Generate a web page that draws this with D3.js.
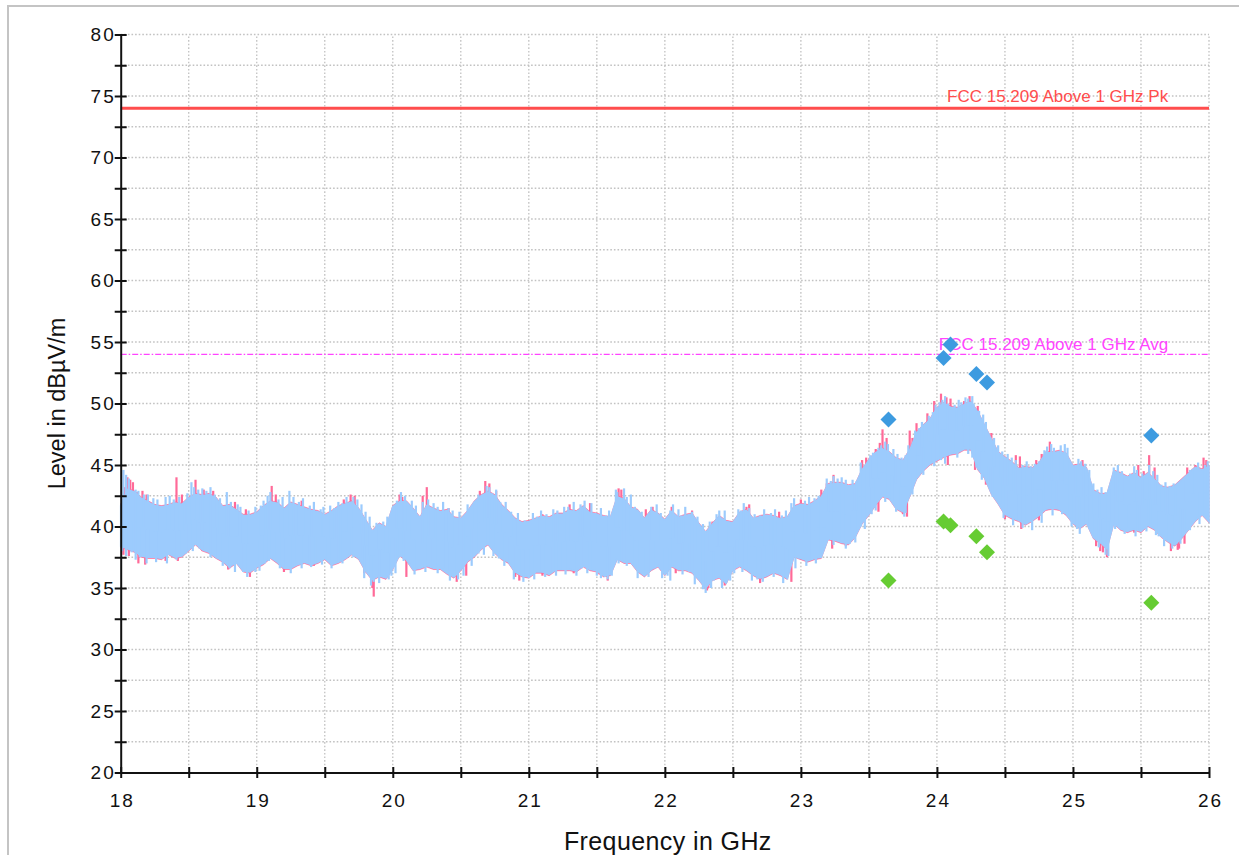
<!DOCTYPE html>
<html>
<head>
<meta charset="utf-8">
<script src="https://cdn.jsdelivr.net/npm/d3@7"></script>
<style>
  body { margin: 0; background: #fff; }
  svg { display: block; font-family: "Liberation Sans", Arial, sans-serif; }
</style>
</head>
<body>
<svg id="chart" width="1239" height="855"></svg>
<script>
// Sweep 18–26 GHz, core band of each trace sampled every 50 MHz (dBµV/m)
const sweepStart = 18;
const sweepStep = 0.05;

// Average-detector trace (light blue): upper and lower edge of the dense band
const blueHi = [
  41.7, 43.0, 42.8, 42.3, 42.0, 41.7, 41.6, 41.7, 41.9, 41.8,
  42.3, 42.6, 42.5, 42.6, 42.3, 41.6, 41.7, 41.3, 40.9, 40.9,
  41.1, 41.6, 42.0, 41.9, 41.4, 41.9, 41.7, 41.5, 41.3, 41.2,
  40.9, 41.2, 41.6, 41.8, 42.0, 41.4, 40.5, 39.6, 40.2, 39.9,
  41.6, 42.0, 42.0, 41.4, 40.7, 41.7, 41.4, 41.2, 41.3, 40.7,
  40.6, 41.2, 42.0, 42.5, 42.8, 42.5, 41.7, 41.2, 40.6, 40.3,
  40.4, 40.6, 40.8, 40.7, 41.0, 41.0, 41.3, 41.2, 41.6, 41.1,
  41.0, 40.8, 40.7, 42.4, 42.2, 41.5, 41.3, 40.6, 41.3, 41.0,
  40.5, 41.2, 40.7, 40.9, 41.0, 40.2, 39.5, 40.2, 40.8, 40.4,
  40.3, 41.1, 41.3, 40.6, 40.8, 40.9, 40.8, 40.6, 40.7, 41.6,
  41.8, 41.7, 42.0, 42.4, 43.4, 43.5, 43.5, 43.3, 43.4, 44.6,
  45.4, 46.0, 46.3, 46.0, 45.5, 45.3, 46.2, 47.6, 48.2, 48.7,
  49.6, 50.0, 49.7, 49.6, 49.9, 50.1, 49.3, 48.2, 47.1, 46.0,
  45.6, 45.2, 44.7, 44.8, 44.7, 45.1, 46.0, 46.0, 46.1, 45.9,
  44.9, 45.0, 44.7, 42.9, 42.6, 42.6, 44.5, 44.3, 44.0, 44.3,
  43.9, 44.3, 43.8, 43.2, 43.1, 43.3, 43.8, 44.3, 44.8, 44.6,
  44.9
];
const blueLo = [
  38.4, 38.2, 38.0, 37.6, 37.5, 37.5, 37.4, 37.8, 37.5, 37.6,
  38.1, 38.6, 38.1, 37.9, 37.5, 37.2, 36.7, 37.1, 36.4, 36.3,
  36.7, 37.0, 37.5, 37.1, 36.6, 36.6, 36.9, 37.1, 36.9, 37.1,
  37.4, 36.9, 37.1, 37.4, 37.8, 37.4, 36.4, 35.7, 36.0, 35.8,
  36.6, 37.7, 37.3, 36.5, 36.6, 36.8, 36.6, 36.6, 36.2, 35.9,
  36.5, 37.2, 37.6, 38.2, 38.6, 37.9, 37.4, 37.1, 36.3, 36.0,
  35.9, 36.3, 36.3, 36.1, 36.5, 36.5, 36.5, 36.4, 36.8, 36.5,
  36.4, 36.0, 36.1, 37.4, 37.1, 37.1, 36.4, 36.0, 36.5, 36.8,
  36.1, 36.8, 36.5, 36.5, 36.3, 35.7, 35.0, 35.7, 35.9, 35.4,
  36.5, 36.8, 36.5, 36.1, 35.8, 36.0, 36.3, 36.1, 35.8, 37.6,
  37.4, 37.2, 37.4, 37.5, 39.0, 38.9, 38.7, 38.6, 39.2, 40.3,
  41.0, 41.8, 42.5, 42.3, 41.5, 41.2, 42.5, 43.9, 44.6, 45.1,
  45.4, 45.7, 45.9, 46.0, 46.3, 46.3, 44.7, 44.0, 42.7, 41.9,
  41.0, 40.7, 40.5, 40.2, 40.5, 40.9, 41.4, 41.5, 41.4, 41.0,
  40.3, 39.9, 40.3, 39.1, 38.7, 38.2, 40.3, 39.8, 39.6, 39.8,
  39.6, 40.1, 39.8, 39.2, 38.8, 38.5, 39.1, 39.8, 40.5, 41.0,
  40.4
];
// Isolated excursions of the average trace beyond its band [GHz, dBµV/m]
const blueSpikes = [
  [18.02, 44.6], [18.06, 43.9], [18.11, 43.0], [18.17, 42.6], [18.24, 42.3], [18.33, 42.4], [18.39, 42.2],
  [18.47, 42.0], [18.52, 43.6], [18.57, 43.0], [18.63, 42.9], [18.69, 42.6], [18.78, 42.8], [18.86, 41.8],
  [18.94, 41.3], [19.03, 41.7], [19.08, 42.5], [19.16, 42.2], [19.24, 42.9], [19.31, 42.0], [19.39, 41.7],
  [19.47, 41.4], [19.57, 41.5], [19.63, 41.9], [19.71, 42.4], [19.77, 41.8], [19.83, 40.8], [19.93, 40.4],
  [20.03, 42.1], [20.09, 42.5], [20.17, 41.7], [20.26, 42.2], [20.33, 41.6], [20.41, 41.5], [20.52, 40.8],
  [20.60, 42.0], [20.66, 42.6], [20.73, 42.7], [20.79, 42.0], [20.87, 41.2], [20.97, 40.5], [21.06, 40.8],
  [21.13, 41.0], [21.21, 41.3], [21.29, 41.6], [21.36, 41.3], [21.41, 42.1], [21.49, 41.1], [21.57, 40.9],
  [21.65, 42.8], [21.72, 42.4], [21.78, 41.6], [21.90, 41.6], [21.97, 41.1], [22.04, 41.3], [22.12, 40.9],
  [22.20, 41.2], [22.28, 40.2], [22.40, 41.3], [22.47, 40.4], [22.56, 41.3], [22.62, 41.5], [22.70, 40.9],
  [22.78, 41.1], [22.86, 40.9], [22.95, 42.3], [23.03, 42.1], [23.10, 42.3], [23.17, 42.7], [23.22, 43.7],
  [23.27, 43.9], [23.33, 43.8], [23.41, 43.7], [23.47, 44.8], [23.53, 46.0], [23.57, 46.4], [23.62, 46.9],
  [23.68, 46.3], [23.74, 45.6], [23.79, 46.6], [23.84, 47.8], [23.89, 48.5], [23.94, 49.0], [23.99, 49.9],
  [24.04, 50.3], [24.08, 50.0], [24.13, 49.9], [24.18, 50.1], [24.23, 50.4], [24.27, 50.0], [24.31, 49.4],
  [24.36, 48.5], [24.42, 47.2], [24.48, 46.1], [24.55, 45.6], [24.63, 45.0], [24.69, 44.9], [24.75, 45.3],
  [24.81, 46.5], [24.86, 46.4], [24.91, 46.6], [24.96, 46.4], [25.02, 45.0], [25.06, 45.3], [25.12, 44.6],
  [25.18, 43.0], [25.24, 42.8], [25.30, 44.8], [25.36, 44.5], [25.42, 44.3], [25.47, 44.6], [25.53, 44.2],
  [25.59, 44.5], [25.65, 43.4], [25.71, 43.3], [25.77, 43.5], [25.83, 44.1], [25.88, 44.7], [25.92, 45.2],
  [25.97, 45.0],
  [18.04, 44.2], [18.13, 42.9], [18.20, 42.6], [18.27, 42.2], [18.36, 42.5], [18.43, 42.4], [18.49, 42.7],
  [18.54, 43.2], [18.60, 43.1], [18.66, 43.2], [18.73, 42.3], [18.81, 42.0], [18.88, 41.6], [18.99, 41.6],
  [19.05, 42.1], [19.10, 42.8], [19.19, 42.4], [19.27, 42.4], [19.34, 42.3], [19.42, 42.0], [19.49, 41.6],
  [19.54, 41.7], [19.60, 42.0], [19.66, 42.4], [19.74, 42.2], [19.80, 41.2], [19.88, 40.3], [19.96, 40.8],
  [20.06, 42.8], [20.14, 42.1], [20.22, 42.0], [20.30, 41.9], [20.37, 42.0], [20.44, 41.3], [20.49, 41.2],
  [20.55, 41.8], [20.63, 42.6], [20.69, 43.3], [20.71, 43.2], [20.76, 43.0], [20.83, 42.0], [20.92, 41.1],
  [21.03, 41.1], [21.09, 41.3], [21.18, 41.4], [21.26, 41.6], [21.33, 42.0], [21.38, 41.8], [21.46, 41.9],
  [21.53, 41.5], [21.59, 41.3], [21.64, 43.0], [21.70, 43.1], [21.75, 42.6], [21.83, 41.2], [21.94, 41.8],
  [22.06, 41.8], [22.10, 41.4], [22.15, 41.6], [22.24, 40.8], [22.33, 40.4], [22.38, 41.0], [22.44, 41.3],
  [22.54, 41.4], [22.58, 41.9], [22.66, 41.0], [22.73, 41.4], [22.81, 41.4], [22.89, 41.3], [22.93, 41.9],
  [23.06, 42.4], [23.13, 42.5], [23.19, 43.9], [23.24, 44.1], [23.30, 44.0], [23.38, 43.8], [23.44, 45.2],
  [23.51, 45.8], [23.59, 46.6], [23.64, 46.7], [23.71, 45.9], [23.77, 45.8], [23.87, 48.0], [23.97, 49.3],
  [24.02, 50.1], [24.06, 50.6], [24.16, 50.3], [24.21, 50.5], [24.26, 50.6], [24.34, 49.1], [24.45, 46.6],
  [24.52, 45.9], [24.58, 45.4], [24.66, 45.3], [24.72, 45.1], [24.79, 46.2], [24.84, 46.7], [24.94, 46.7],
  [25.04, 45.5], [25.09, 45.1], [25.15, 43.5], [25.21, 43.2], [25.27, 43.1], [25.33, 45.0], [25.45, 44.9],
  [25.51, 44.3], [25.56, 45.0], [25.62, 44.2], [25.68, 43.6], [25.74, 43.5], [25.86, 44.6], [25.99, 45.3],
  [18.01, 38.0], [18.08, 37.9], [18.14, 37.5], [18.22, 37.5], [18.30, 37.4], [18.37, 37.8], [18.45, 37.6],
  [18.55, 38.6], [18.62, 38.0], [18.71, 37.4], [18.80, 36.6], [18.90, 36.3], [18.97, 36.4], [19.06, 37.0],
  [19.13, 37.6], [19.21, 36.6], [19.29, 36.9], [19.37, 37.1], [19.43, 37.1], [19.52, 37.3], [19.60, 37.1],
  [19.68, 37.8], [19.76, 37.5], [19.81, 36.4], [19.86, 35.5], [19.92, 35.9], [19.97, 35.7], [20.05, 37.5],
  [20.12, 37.0], [20.20, 36.6], [20.28, 36.7], [20.37, 36.6], [20.45, 35.9], [20.55, 37.2], [20.63, 37.8],
  [20.70, 38.6], [20.78, 37.4], [20.86, 37.1], [20.93, 36.1], [21.00, 35.8], [21.08, 36.4], [21.16, 36.2],
  [21.23, 36.5], [21.31, 36.6], [21.39, 36.6], [21.47, 36.5], [21.56, 35.9], [21.61, 36.0], [21.68, 37.2],
  [21.76, 36.9], [21.84, 36.1], [21.93, 36.6], [22.02, 36.0], [22.09, 36.6], [22.18, 36.3], [22.26, 35.6],
  [22.30, 34.6], [22.36, 35.6], [22.45, 35.4], [22.53, 36.7], [22.60, 36.6], [22.68, 35.7], [22.75, 36.2],
  [22.83, 36.2], [22.90, 35.7], [22.98, 37.4], [23.06, 37.2], [23.13, 37.5], [23.20, 38.9], [23.30, 38.7],
  [23.36, 38.6], [23.44, 40.0], [23.52, 41.0], [23.60, 42.5], [23.67, 42.0], [23.73, 41.3], [23.77, 41.1],
  [23.86, 44.0], [23.95, 45.2], [24.03, 45.4], [24.12, 46.0], [24.20, 46.5], [24.29, 44.8], [24.38, 43.6],
  [24.47, 41.8], [24.53, 40.8], [24.60, 40.5], [24.66, 40.2], [24.73, 40.8], [24.80, 41.5], [24.88, 41.5],
  [24.96, 41.0], [25.03, 39.8], [25.09, 40.2], [25.16, 39.2], [25.22, 38.6], [25.26, 37.6], [25.34, 40.2],
  [25.41, 39.8], [25.49, 39.7], [25.57, 40.1], [25.63, 39.2], [25.70, 38.8], [25.76, 38.6], [25.82, 39.6],
  [25.89, 40.4], [25.95, 40.9],
  [18.04, 37.6], [18.11, 37.3], [18.19, 37.0], [18.26, 37.1], [18.34, 37.0], [18.41, 37.3], [18.48, 37.8],
  [18.53, 38.0], [18.58, 38.2], [18.66, 37.5], [18.75, 36.8], [18.84, 36.3], [18.93, 35.9], [18.99, 36.3],
  [19.02, 36.4], [19.09, 37.2], [19.17, 36.6], [19.25, 36.2], [19.33, 36.6], [19.40, 36.7], [19.48, 36.9],
  [19.55, 36.6], [19.63, 37.0], [19.71, 37.5], [19.79, 35.8], [19.84, 35.2], [19.90, 35.4], [19.99, 36.0],
  [20.02, 36.2], [20.08, 37.2], [20.16, 36.1], [20.24, 36.3], [20.33, 36.2], [20.42, 35.6], [20.48, 35.7],
  [20.52, 36.0], [20.58, 36.8], [20.67, 37.7], [20.74, 37.6], [20.82, 36.8], [20.89, 35.7], [20.96, 35.5],
  [21.04, 35.7], [21.12, 35.9], [21.20, 36.0], [21.27, 36.1], [21.35, 36.0], [21.43, 36.2], [21.50, 36.0],
  [21.53, 35.8], [21.58, 35.7], [21.66, 37.0], [21.72, 36.8], [21.80, 35.8], [21.88, 35.9], [21.98, 35.8],
  [22.04, 35.6], [22.13, 36.1], [22.22, 35.3], [22.28, 34.9], [22.34, 35.0], [22.42, 35.0], [22.48, 35.6],
  [22.51, 36.2], [22.57, 36.3], [22.64, 35.6], [22.72, 35.5], [22.80, 35.9], [22.87, 35.4], [22.96, 36.6],
  [23.04, 36.8], [23.11, 37.0], [23.17, 38.3], [23.24, 38.5], [23.33, 38.2], [23.40, 38.7], [23.47, 39.8],
  [23.55, 41.3], [23.62, 42.0], [23.70, 41.2], [23.76, 40.8], [23.82, 42.6], [23.90, 44.2], [23.98, 44.9],
  [24.06, 45.1], [24.15, 45.6], [24.23, 45.9], [24.26, 45.6], [24.33, 43.8], [24.41, 42.4], [24.49, 40.7],
  [24.56, 40.1], [24.63, 39.9], [24.70, 39.7], [24.77, 40.3], [24.85, 40.9], [24.92, 41.0], [24.99, 40.0],
  [25.05, 39.4], [25.12, 39.8], [25.19, 38.3], [25.24, 37.7], [25.31, 39.8], [25.38, 39.4], [25.46, 39.2],
  [25.54, 39.6], [25.61, 39.3], [25.67, 38.4], [25.73, 38.2], [25.79, 38.6], [25.86, 39.7], [25.93, 40.2]
];

// Peak-detector trace (pink): upper and lower edge of the dense band
const pinkHi = [
  41.8, 43.1, 42.9, 42.4, 42.1, 41.8, 41.7, 41.8, 42.0, 41.9,
  42.4, 42.7, 42.6, 42.7, 42.4, 41.7, 41.8, 41.4, 41.0, 41.0,
  41.2, 41.7, 42.1, 42.0, 41.5, 42.0, 41.8, 41.6, 41.4, 41.3,
  41.0, 41.3, 41.7, 41.9, 42.1, 41.5, 40.6, 39.7, 40.3, 40.0,
  41.7, 42.1, 42.1, 41.5, 40.8, 41.8, 41.5, 41.3, 41.4, 40.8,
  40.7, 41.3, 42.1, 42.6, 42.9, 42.6, 41.8, 41.3, 40.7, 40.4,
  40.5, 40.7, 40.9, 40.8, 41.1, 41.1, 41.4, 41.3, 41.7, 41.2,
  41.1, 40.9, 40.8, 42.5, 42.3, 41.6, 41.4, 40.7, 41.4, 41.1,
  40.6, 41.3, 40.8, 41.0, 41.1, 40.3, 39.6, 40.3, 40.9, 40.5,
  40.4, 41.2, 41.4, 40.7, 40.9, 41.0, 40.9, 40.7, 40.8, 41.7,
  41.9, 41.8, 42.1, 42.5, 43.5, 43.6, 43.6, 43.4, 43.5, 44.7,
  45.5, 46.1, 46.4, 46.1, 45.6, 45.4, 46.3, 47.7, 48.3, 48.8,
  49.7, 50.1, 49.8, 49.7, 50.0, 50.2, 49.4, 48.3, 47.2, 46.1,
  45.7, 45.3, 44.8, 44.9, 44.8, 45.2, 46.1, 46.1, 46.2, 46.0,
  45.0, 45.1, 44.8, 43.0, 42.7, 42.7, 44.6, 44.4, 44.1, 44.4,
  44.0, 44.4, 43.9, 43.3, 43.2, 43.4, 43.9, 44.4, 44.9, 44.7,
  45.0
];
const pinkLo = [
  38.3, 38.1, 37.9, 37.5, 37.4, 37.4, 37.3, 37.7, 37.4, 37.5,
  38.0, 38.5, 38.0, 37.8, 37.4, 37.1, 36.6, 37.0, 36.3, 36.2,
  36.6, 36.9, 37.4, 37.0, 36.5, 36.5, 36.8, 37.0, 36.8, 37.0,
  37.3, 36.8, 37.0, 37.3, 37.7, 37.3, 36.3, 35.6, 35.9, 35.7,
  36.5, 37.6, 37.2, 36.4, 36.5, 36.7, 36.5, 36.5, 36.1, 35.8,
  36.4, 37.1, 37.5, 38.1, 38.5, 37.8, 37.3, 37.0, 36.2, 35.9,
  35.8, 36.2, 36.2, 36.0, 36.4, 36.4, 36.4, 36.3, 36.7, 36.4,
  36.3, 35.9, 36.0, 37.3, 37.0, 37.0, 36.3, 35.9, 36.4, 36.7,
  36.0, 36.7, 36.4, 36.4, 36.2, 35.6, 34.9, 35.6, 35.8, 35.3,
  36.4, 36.7, 36.4, 36.0, 35.7, 35.9, 36.2, 36.0, 35.7, 37.5,
  37.3, 37.1, 37.3, 37.4, 38.9, 38.8, 38.6, 38.5, 39.1, 40.2,
  40.9, 41.7, 42.4, 42.2, 41.4, 41.1, 42.4, 43.8, 44.5, 45.0,
  45.3, 45.6, 45.8, 45.9, 46.2, 46.2, 44.6, 43.9, 42.6, 41.8,
  40.9, 40.6, 40.4, 40.1, 40.4, 40.8, 41.3, 41.4, 41.3, 40.9,
  40.2, 39.8, 40.2, 39.0, 38.6, 38.1, 40.2, 39.7, 39.5, 39.7,
  39.5, 40.0, 39.7, 39.1, 38.7, 38.4, 39.0, 39.7, 40.4, 40.9,
  40.3
];
// Isolated excursions of the peak trace beyond its band [GHz, dBµV/m]
const pinkSpikes = [
  [18.05, 44.0], [18.09, 43.6], [18.16, 42.9], [18.41, 44.0], [18.55, 43.8], [18.68, 42.9], [18.84, 42.0],
  [19.11, 43.3], [19.33, 42.1], [19.69, 42.6], [20.07, 42.4], [20.25, 43.2], [20.41, 41.5], [20.68, 43.7],
  [20.76, 42.9], [21.10, 41.0], [21.45, 41.9], [21.68, 43.0], [21.91, 41.6], [22.05, 41.6], [22.20, 41.3],
  [22.35, 40.4], [22.60, 41.6], [22.84, 41.2], [23.00, 42.2], [23.19, 43.5], [23.45, 45.4], [23.55, 46.3],
  [23.60, 47.9], [23.80, 47.8], [23.85, 48.4], [24.03, 50.8], [24.10, 50.4], [24.20, 50.2], [24.33, 48.4],
  [24.61, 45.7], [24.77, 45.9], [24.98, 45.0], [25.34, 44.3], [25.48, 45.0], [25.56, 45.8], [25.84, 44.8],
  [25.96, 45.6],
  [18.03, 43.2], [18.07, 43.8], [18.12, 42.8], [18.19, 42.6], [18.45, 42.6], [18.61, 43.0], [18.92, 41.4],
  [19.14, 42.6], [19.64, 42.2], [19.72, 42.5], [20.05, 42.6], [20.22, 42.5], [20.64, 42.9], [20.71, 43.5],
  [21.30, 41.8], [21.66, 43.1], [21.86, 41.4], [22.62, 41.8], [23.15, 43.0], [23.24, 44.2], [23.48, 45.6],
  [23.58, 46.8], [23.63, 47.2], [23.82, 47.2], [23.93, 49.2], [23.98, 50.2], [24.07, 50.5], [24.24, 50.6],
  [24.30, 49.8], [24.40, 47.6], [24.58, 45.8], [24.73, 45.4], [24.83, 46.9], [25.07, 45.4], [25.52, 44.5],
  [25.60, 44.8], [25.90, 45.0], [25.98, 45.4],
  [18.13, 37.0], [18.33, 37.2], [18.55, 38.5], [18.79, 36.5], [19.20, 36.3], [19.42, 36.8], [19.79, 36.2],
  [19.86, 34.3], [20.10, 35.9], [20.54, 36.0], [20.90, 35.9], [21.10, 36.0], [21.33, 36.2], [21.52, 36.1],
  [22.08, 36.2], [22.32, 35.0], [22.70, 35.4], [22.93, 35.5], [23.33, 38.4], [23.75, 41.0], [24.28, 44.6],
  [24.50, 40.6], [24.75, 40.5], [25.17, 38.4], [25.22, 37.9], [25.45, 39.5], [25.77, 38.1], [25.82, 38.6],
  [18.02, 37.7], [18.06, 37.6], [18.18, 36.9], [18.42, 37.2], [18.60, 38.0], [18.95, 35.9], [19.85, 35.0],
  [20.47, 35.5], [20.93, 35.6], [21.58, 35.6], [22.31, 34.8], [22.44, 35.2], [23.23, 38.2], [23.57, 41.2],
  [23.78, 40.8], [24.08, 45.0], [24.36, 43.4], [24.62, 39.8], [25.20, 38.0], [25.25, 37.5], [25.72, 38.0],
  [25.78, 38.2]
];

// Final measurements at the critical frequencies (GHz, dBµV/m)
const finalFreqs = [23.644, 24.049, 24.10, 24.29, 24.368, 25.576];
const finalPeak = [48.7, 53.7, 54.8, 52.4, 51.7, 47.4];
const finalAvg = [35.6, 40.4, 40.1, 39.2, 37.9, 33.8];

// Limit lines
const limitPk = 74;
const limitAvg = 54;
const limitPkLabel = "FCC 15.209 Above 1 GHz Pk";
const limitAvgLabel = "FCC 15.209 Above 1 GHz Avg";

// Axes
const freqDomain = [18, 26];
const levelDomain = [20, 80];
const freqTicks = [18, 18.5, 19, 19.5, 20, 20.5, 21, 21.5, 22, 22.5, 23, 23.5, 24, 24.5, 25, 25.5, 26];
const levelTicks = [20, 22.5, 25, 27.5, 30, 32.5, 35, 37.5, 40, 42.5, 45, 47.5, 50, 52.5, 55, 57.5, 60, 62.5, 65, 67.5, 70, 72.5, 75, 77.5, 80];
const xTitle = "Frequency in GHz";
const yTitle = "Level in dBµV/m";

const svg = d3.select("#chart");

// outer frame
svg.append("rect")
  .attr("x", 8).attr("y", 6).attr("width", 1260).attr("height", 880)
  .attr("fill", "none").attr("stroke", "#c4c4c4").attr("stroke-width", 2);

const x = d3.scaleLinear().domain(freqDomain).range([120.7, 1209]);
const y = d3.scaleLinear().domain(levelDomain).range([772.5, 34.5]);

// grid
const grid = svg.append("g").attr("stroke", "#c2c2c2").attr("stroke-width", 1.3)
  .attr("stroke-dasharray", "1.6,2");
grid.selectAll("line.v").data(freqTicks.filter(f => f > freqDomain[0])).join("line")
  .attr("x1", d => x(d)).attr("x2", d => x(d))
  .attr("y1", y(levelDomain[0])).attr("y2", y(levelDomain[1]));
grid.selectAll("line.h").data(levelTicks.filter(v => v > levelDomain[0])).join("line")
  .attr("x1", x(freqDomain[0])).attr("x2", x(freqDomain[1]))
  .attr("y1", d => y(d)).attr("y2", d => y(d));

// traces: dense band plus isolated excursions drawn as thin vertical strokes
const toRows = (hi, lo) => hi.map((h, i) => ({ f: sweepStart + i * sweepStep, hi: h, lo: lo[i] }));
const band = d3.area().x(d => x(d.f)).y0(d => y(d.lo)).y1(d => y(d.hi));

function drawTrace(hi, lo, spikes, color, edge) {
  const rows = toRows(hi, lo);
  svg.append("path").datum(rows)
    .attr("d", band).attr("fill", color).attr("stroke", color).attr("stroke-width", edge);
  const g = svg.append("g").attr("stroke", color).attr("stroke-width", 2.2);
  g.selectAll("line").data(spikes).join("line")
    .attr("x1", d => x(d[0])).attr("x2", d => x(d[0]))
    .attr("y1", d => y(d[1]))
    .attr("y2", d => {
      const r = rows[Math.round((d[0] - sweepStart) / sweepStep)];
      return y((r.hi + r.lo) / 2);
    });
}
drawTrace(pinkHi, pinkLo, pinkSpikes, "#ff6a98", 0.6);
drawTrace(blueHi, blueLo, blueSpikes, "#9ccbfd", 1.6);

// limit lines
svg.append("line")
  .attr("x1", x(freqDomain[0])).attr("x2", x(freqDomain[1]))
  .attr("y1", y(limitPk)).attr("y2", y(limitPk))
  .attr("stroke", "#ff4d4d").attr("stroke-width", 3);
svg.append("line")
  .attr("x1", x(freqDomain[0])).attr("x2", x(freqDomain[1]))
  .attr("y1", y(limitAvg)).attr("y2", y(limitAvg))
  .attr("stroke", "#ff44ff").attr("stroke-width", 1.3).attr("stroke-dasharray", "6,2,1.5,2");

svg.append("text").text(limitPkLabel)
  .attr("x", x(25.7)).attr("y", y(limitPk) - 6)
  .attr("text-anchor", "end").attr("font-size", 17).attr("fill", "#ff4d4d");
svg.append("text").text(limitAvgLabel)
  .attr("x", x(25.7)).attr("y", y(limitAvg) - 4)
  .attr("text-anchor", "end").attr("font-size", 17).attr("fill", "#ff44ff");

// final measurement markers
const diamond = d3.symbol().type(d3.symbolSquare).size(128);
svg.append("g").selectAll("path").data(finalFreqs).join("path")
  .attr("d", diamond)
  .attr("transform", (d, i) => `translate(${x(d)},${y(finalAvg[i])}) rotate(45)`)
  .attr("fill", "#66cc33");
svg.append("g").selectAll("path").data(finalFreqs).join("path")
  .attr("d", diamond)
  .attr("transform", (d, i) => `translate(${x(d)},${y(finalPeak[i])}) rotate(45)`)
  .attr("fill", "#3d9be0");

// axes
const yAxis = svg.append("g").attr("transform", `translate(${x(freqDomain[0])},0)`)
  .call(d3.axisLeft(y).tickValues(levelTicks).tickFormat(d => d % 5 === 0 ? d : "")
    .tickSizeInner(6).tickSizeOuter(0));
yAxis.selectAll(".tick line").attr("x1", 6).attr("stroke-width", 2);
yAxis.select(".domain").attr("stroke-width", 2);
yAxis.selectAll(".tick text").attr("x", -5).attr("font-size", 19).attr("letter-spacing", "2px")
  .attr("fill", "#111");

const xAxis = svg.append("g").attr("transform", `translate(0,${y(levelDomain[0])})`)
  .call(d3.axisBottom(x).tickValues(freqTicks).tickFormat(d => Number.isInteger(d) ? d : "")
    .tickSizeInner(5.5).tickSizeOuter(0));
xAxis.selectAll(".tick line").attr("y1", -5.5).attr("stroke-width", 2);
xAxis.select(".domain").attr("stroke-width", 2);
xAxis.selectAll(".tick text").attr("y", 34.5).attr("dy", 0).attr("x", 1)
  .attr("font-size", 19).attr("letter-spacing", "2px")
  .attr("fill", "#111");
svg.selectAll(".domain, .tick line").attr("stroke", "#111");
svg.selectAll("g[font-family]").attr("font-family", null);

// axis titles
svg.append("text").text(xTitle)
  .attr("x", (x(freqDomain[0]) + x(freqDomain[1])) / 2 + 3).attr("y", 850)
  .attr("text-anchor", "middle").attr("font-size", 25).attr("letter-spacing", "0.4px").attr("fill", "#111");
svg.append("text").text(yTitle)
  .attr("transform", `translate(65,${(y(levelDomain[0]) + y(levelDomain[1])) / 2}) rotate(-90)`)
  .attr("text-anchor", "middle").attr("font-size", 23.5).attr("fill", "#111");
</script>
</body>
</html>
